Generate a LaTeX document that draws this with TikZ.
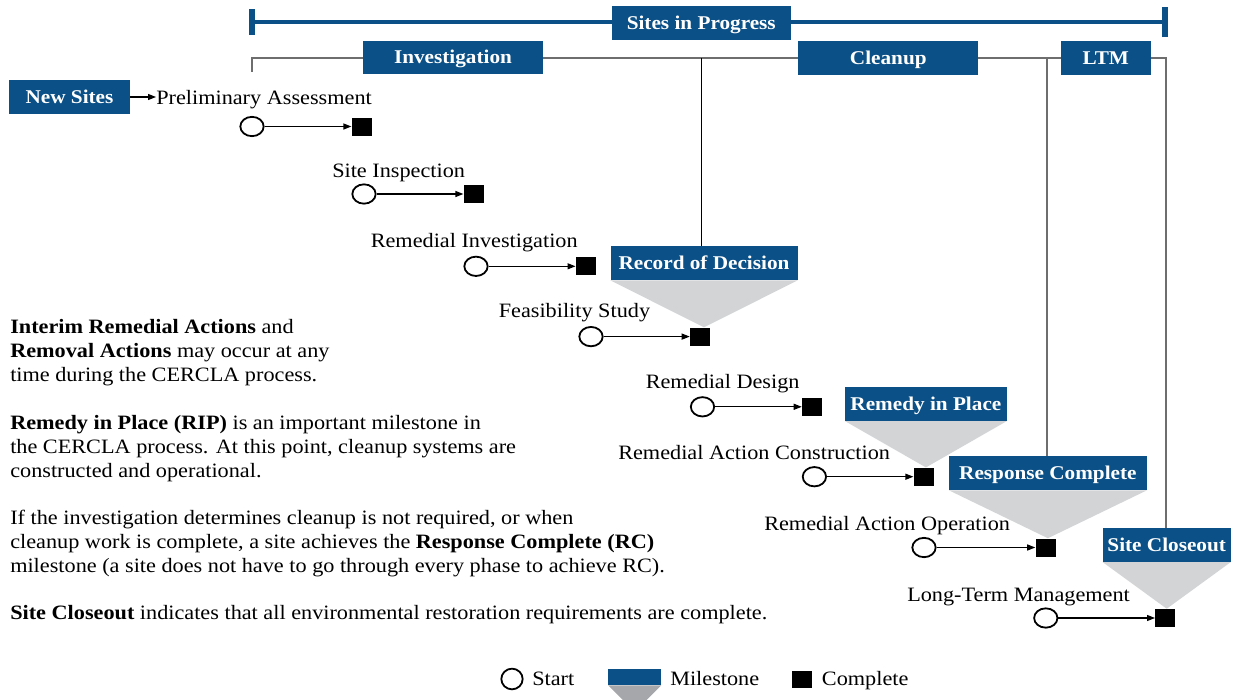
\documentclass[tikz,border=0pt]{standalone}
\usepackage{fontspec}
\setmainfont[FakeStretch=1.09]{Liberation Serif}
\usetikzlibrary{shapes.geometric,arrows.meta,backgrounds}
\definecolor{boxblue}{RGB}{11,80,135}
\definecolor{trigray}{RGB}{211,212,214}
\definecolor{leggray}{RGB}{166,167,171}
\definecolor{brgray}{RGB}{110,110,110}
\tikzset{
  lbl/.style={anchor=base west, inner sep=0pt, font=\fontsize{15.3pt}{18pt}\selectfont},
  mbox/.style={fill=boxblue, text=white, inner sep=0pt, font=\fontsize{14.6pt}{17pt}\selectfont\bfseries, text height=11pt, text depth=1.5pt},
  startc/.style={ellipse, draw=black, line width=1.35pt, minimum width=17.5pt, minimum height=14.5pt, inner sep=0pt},
  donesq/.style={rectangle, fill=black, minimum width=15pt, minimum height=13.5pt, inner sep=0pt},
  flow/.style={line width=0.9pt, -{Triangle[length=6pt,width=4.5pt]}},
  tri/.style={fill=trigray},
  bracket/.style={draw=brgray, line width=1.4pt},
  topbar/.style={draw=boxblue, line width=2.6pt},
  toptick/.style={draw=boxblue, line width=3.8pt},
}
\begin{document}
\begin{tikzpicture}[x=0.75pt,y=-0.75pt]
\useasboundingbox (0,0) rectangle (1233,700);

% phase boxes
\node[mbox, minimum width=134.6pt, minimum height=25.5pt] (sip) at (701.25,23) {Sites in Progress};
\node[mbox, minimum width=135pt, minimum height=24.75pt] (inv) at (453,57.5) {Investigation};
\node[mbox, minimum width=135pt, minimum height=25.5pt] (cln) at (888.3,58) {Cleanup};
\node[mbox, minimum width=67.3pt, minimum height=25.5pt] (ltm) at (1105.8,58) {LTM};
\node[mbox, minimum width=90.75pt, minimum height=25.5pt] (ns) at (69.5,97) {New Sites};

% milestone boxes
\node[mbox, minimum width=140.25pt, minimum height=25.7pt] (rod) at (704,262.9) {Record of Decision};
\node[mbox, minimum width=121.3pt, minimum height=25.5pt] (rip) at (925.9,403.7) {Remedy in Place};
\node[mbox, minimum width=148.3pt, minimum height=25.5pt] (rc) at (1047.9,473) {Response Complete};
\node[mbox, minimum width=96pt, minimum height=25pt] (sc) at (1166.7,545) {Site Closeout};

% steps
\node[lbl] (pa-l) at (156,104) {Preliminary Assessment};
\node[startc] (pa-s) at (252,126.5) {};
\node[donesq] (pa-c) at (361.7,126.5) {};

\node[lbl] (si-l) at (332,177) {Site Inspection};
\node[startc] (si-s) at (364,194) {};
\node[donesq] (si-c) at (473.7,194) {};

\node[lbl] (ri-l) at (370.5,247) {Remedial Investigation};
\node[startc] (ri-s) at (476,266.3) {};
\node[donesq] (ri-c) at (585.8,266.3) {};

\node[lbl] (fs-l) at (498.5,317) {Feasibility Study};
\node[startc] (fs-s) at (591,336.6) {};
\node[donesq] (fs-c) at (700,336.6) {};

\node[lbl] (rd-l) at (645.5,388.5) {Remedial Design};
\node[startc] (rd-s) at (702.5,406.8) {};
\node[donesq] (rd-c) at (812,406.8) {};

\node[lbl] (rac-l) at (618,459) {Remedial Action Construction};
\node[startc] (rac-s) at (814.4,476.7) {};
\node[donesq] (rac-c) at (923.7,476.7) {};

\node[lbl] (rao-l) at (764,530) {Remedial Action Operation};
\node[startc] (rao-s) at (924,547.5) {};
\node[donesq] (rao-c) at (1045.5,547.5) {};

\node[lbl] (ltm-l) at (907,601.5) {Long-Term Management};
\node[startc] (ltm-s) at (1045.8,618) {};
\node[donesq] (ltm-c) at (1165.3,618) {};

\foreach \s in {pa,si,ri,fs,rd,rac,rao,ltm}
  \draw[flow] (\s-s.east) -- (\s-s.east -| \s-c.west);

\draw[flow] (ns.east) -- (ns.east -| pa-l.west);

% explanatory text
\node[lbl] (p1a) at (10,333) {\textbf{Interim Remedial Actions} and};
\node[lbl] (p1b) at (10,357) {\textbf{Removal Actions} may occur at any};
\node[lbl] (p1c) at (10,381) {time during the CERCLA process.};
\node[lbl] (p2a) at (10,429) {\textbf{Remedy in Place (RIP)} is an important milestone in};
\node[lbl] (p2b) at (10,453) {the CERCLA process. At this point, cleanup systems are};
\node[lbl] (p2c) at (10,477) {constructed and operational.};
\node[lbl] (p3a) at (10,524.5) {If the investigation determines cleanup is not required, or when};
\node[lbl] (p3b) at (10,548.5) {cleanup work is complete, a site achieves the \textbf{Response Complete (RC)}};
\node[lbl] (p3c) at (10,572) {milestone (a site does not have to go through every phase to achieve RC).};
\node[lbl] (p4) at (10,619) {\textbf{Site Closeout} indicates that all environmental restoration requirements are complete.};

% legend
\node[startc, minimum width=16pt, minimum height=15.5pt] (lg-s) at (512,679) {};
\node[lbl] (lg-st) at (532,685) {Start};
\node[mbox, minimum width=39.5pt, minimum height=12pt, text height=0pt, text depth=0pt] (lg-m) at (634.7,677) {};
\coordinate (lg-tip) at (634.7,712);
\node[lbl] (lg-mt) at (670,685) {Milestone};
\node[donesq, minimum height=12.75pt] (lg-c) at (801.7,679.5) {};
\node[lbl] (lg-ct) at (821.7,685) {Complete};

% coordinates of the frame lines
\coordinate (tl) at (252,22);
\coordinate (tr) at (1165,22);
\coordinate (bl) at (252,58.3);
\coordinate (blt) at (252,72);
\coordinate (br) at (1165.7,58.3);
\coordinate (rcj) at (1046.7,58.3);
\coordinate (rodj) at (701.5,58.3);

\begin{scope}[on background layer]
  \draw[topbar] (tl) -- (tr);
  \draw[toptick] ([yshift=-12.7*0.75pt]tl) -- ([yshift=12.7*0.75pt]tl);
  \draw[toptick] ([yshift=-15*0.75pt]tr) -- ([yshift=15*0.75pt]tr);
  \draw[bracket] (blt) -- (bl) -- (br) -- (br |- sc.north);
  \draw[bracket] (rcj) -- (rcj |- rc.north);
  \draw[black, line width=0.8pt] (rodj) -- (rodj |- rod.north);
  \fill[tri] (rod.south west) -- (rod.south east) -- (rod.south |- fs-c.north) -- cycle;
  \fill[tri] (rip.south west) -- (rip.south east) -- (rip.south |- rac-c.north) -- cycle;
  \fill[tri] (rc.south west) -- (rc.south east) -- (rc.south |- rao-c.north) -- cycle;
  \fill[tri] (sc.south west) -- (sc.south east) -- (sc.south |- ltm-c.north) -- cycle;
  \fill[leggray] (lg-m.south west) -- (lg-m.south east) -- (lg-tip) -- cycle;
\end{scope}
\end{tikzpicture}
\end{document}
